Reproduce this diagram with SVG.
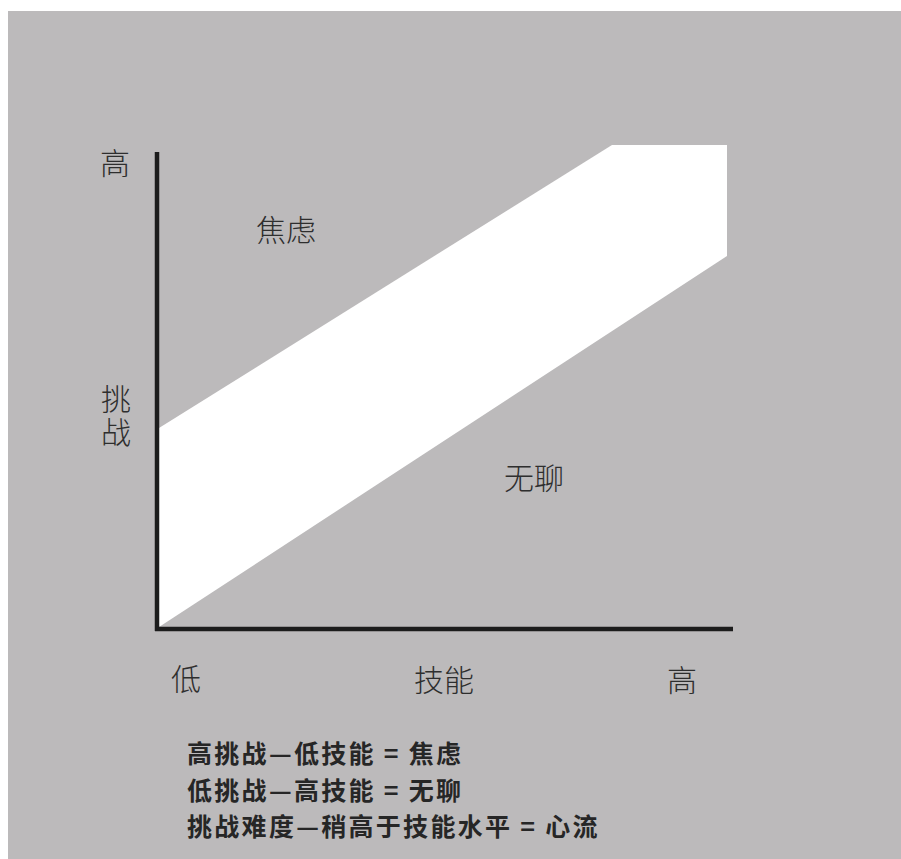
<svg xmlns="http://www.w3.org/2000/svg" width="901" height="859" viewBox="0 0 901 859">
  <style>
    .lbl { font-family: "Noto Sans CJK SC", "Noto Sans", sans-serif; font-size: 30px; font-weight: 300; fill: #2e2e2e; }
    .vert { writing-mode: vertical-rl; letter-spacing: 3px; }
    .note { font-family: "Noto Sans CJK SC", "Noto Sans", sans-serif; font-size: 25px; font-weight: 700; fill: #262626; letter-spacing: 2.3px; }
    .axis { stroke: #1c1c1c; stroke-width: 4.5; fill: none; stroke-linecap: butt; }
  </style>
  <rect x="0" y="0" width="901" height="859" fill="#ffffff"/>
  <rect x="8" y="11" width="893" height="848" fill="#bcbabb"/>
  <g id="flow-band">
    <polygon points="159,428 612,145 727,145 727,256 159,627" fill="#ffffff"/>
  </g>
  <g id="connectors">
    <line class="axis" x1="157" y1="152" x2="157" y2="631"/>
    <line class="axis" x1="155" y1="629" x2="733" y2="629"/>
  </g>
  <g id="y-high"><text class="lbl" x="100" y="174">高</text></g>
  <g id="y-label"><text class="lbl vert" x="116" y="384">挑战</text></g>
  <g id="anxiety"><text class="lbl" x="256" y="241">焦虑</text></g>
  <g id="boredom"><text class="lbl" x="504" y="489">无聊</text></g>
  <g id="x-low"><text class="lbl" x="171" y="690">低</text></g>
  <g id="x-label"><text class="lbl" x="414" y="691">技能</text></g>
  <g id="x-high"><text class="lbl" x="667" y="691">高</text></g>
  <g id="legend">
    <text class="note" x="187" y="763">高挑战—低技能 = 焦虑</text>
    <text class="note" x="187" y="800">低挑战—高技能 = 无聊</text>
    <text class="note" x="187" y="836">挑战难度—稍高于技能水平 = 心流</text>
  </g>
</svg>
